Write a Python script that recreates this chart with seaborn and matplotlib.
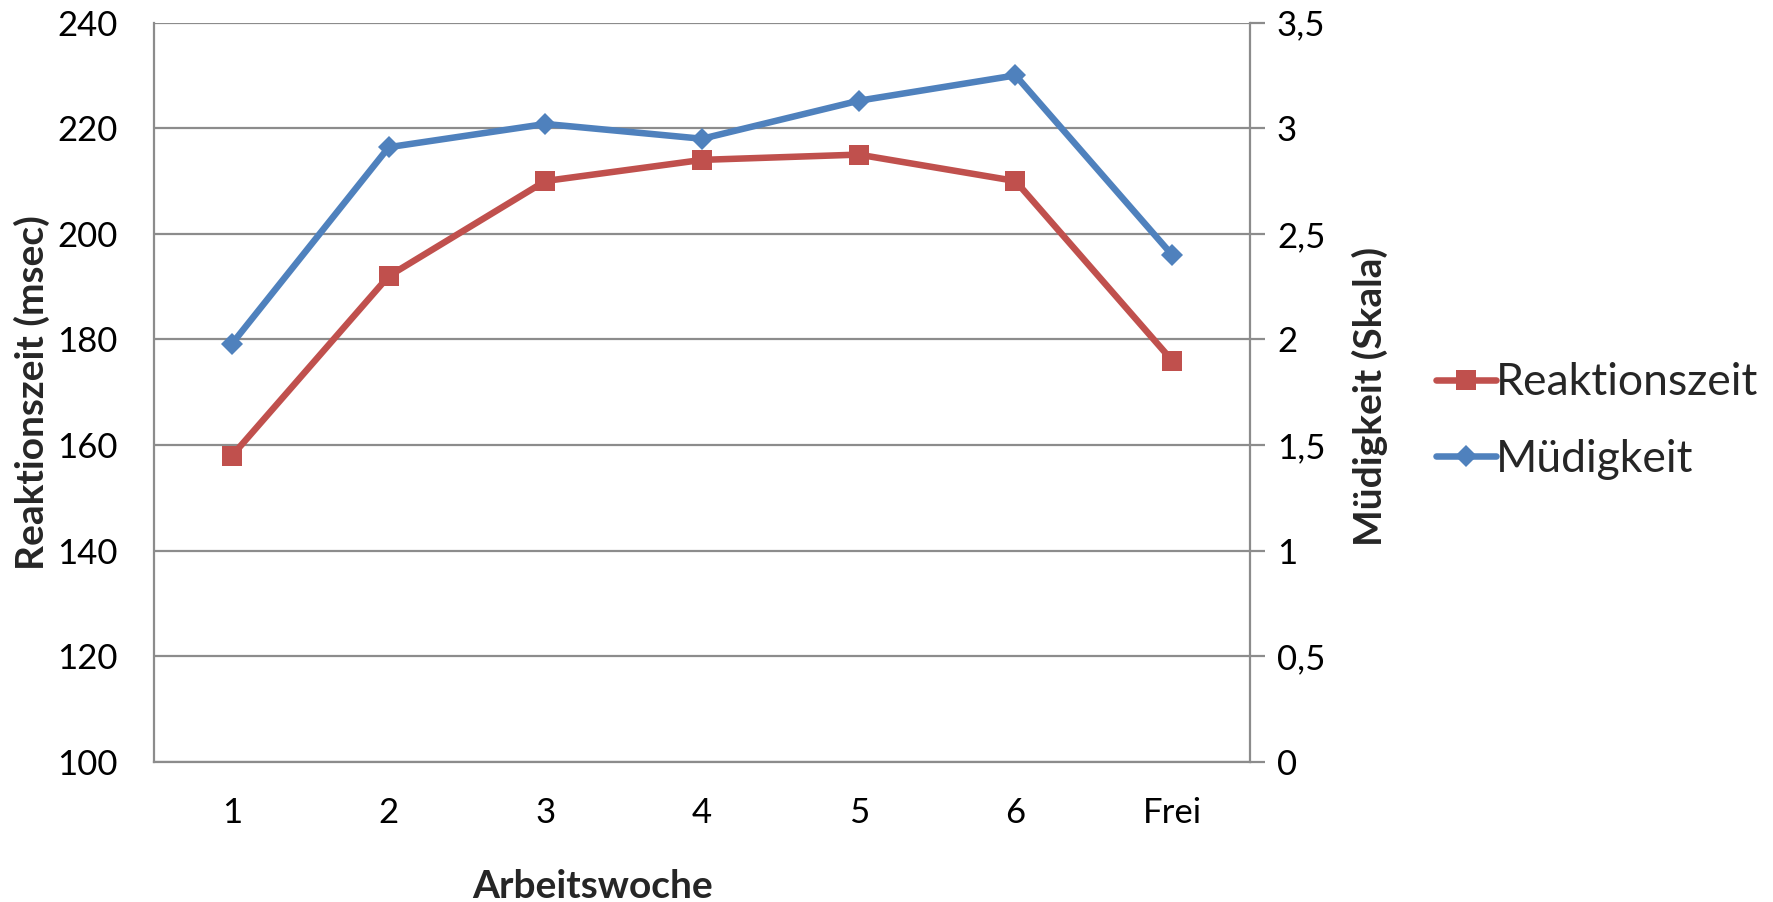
import matplotlib
matplotlib.use("Agg")
import matplotlib.pyplot as plt
import seaborn as sns
import pandas as pd

# Data
wochen = ["1", "2", "3", "4", "5", "6", "Frei"]
reaktionszeit = [158, 192, 210, 214, 215, 210, 176]
muedigkeit = [1.98, 2.91, 3.02, 2.95, 3.13, 3.25, 2.40]

left_ticks = [100, 120, 140, 160, 180, 200, 220, 240]
right_ticks = [0, 0.5, 1, 1.5, 2, 2.5, 3, 3.5]
right_ticklabels = ["0", "0,5", "1", "1,5", "2", "2,5", "3", "3,5"]

RED = "#C0504D"
BLUE = "#4F81BD"
GRID = "#8C8C8C"

sns.set_theme(style="white")
plt.rcParams["font.family"] = ["Lato", "DejaVu Sans"]

df = pd.DataFrame({"Woche": wochen, "Reaktionszeit": reaktionszeit, "Müdigkeit": muedigkeit})

fig = plt.figure(figsize=(17.73, 9.02), dpi=100)
ax = fig.add_axes([0.0867, 0.1552, 0.7053 - 0.0867, 0.975 - 0.1552])
ax2 = ax.twinx()

sns.lineplot(data=df, x="Woche", y="Reaktionszeit", ax=ax, color=RED, lw=4.7,
             marker="s", markersize=14, markeredgewidth=0, label="Reaktionszeit",
             legend=False, sort=False)
sns.lineplot(data=df, x="Woche", y="Müdigkeit", ax=ax2, color=BLUE, lw=4.7,
             marker="D", markersize=11, markeredgewidth=0, label="Müdigkeit",
             legend=False, sort=False)

ax.set_xlim(-0.5, len(wochen) - 0.5)
ax.set_ylim(100, 240)
ax2.set_ylim(0, 3.5)
ax.set_yticks(left_ticks)
ax2.set_yticks(right_ticks)
ax2.set_yticklabels(right_ticklabels)

ax.grid(axis="y", color=GRID, lw=1.6)
ax.grid(axis="x", visible=False)
ax2.grid(False)
ax.set_axisbelow(True)

for a in (ax, ax2):
    for s in a.spines.values():
        s.set_visible(False)
ax.spines["left"].set_visible(True)
ax.spines["left"].set_color(GRID)
ax.spines["left"].set_linewidth(1.6)
ax.spines["bottom"].set_visible(True)
ax.spines["bottom"].set_color(GRID)
ax.spines["bottom"].set_linewidth(1.6)
ax2.spines["right"].set_visible(True)
ax2.spines["right"].set_color(GRID)
ax2.spines["right"].set_linewidth(1.6)

ax.tick_params(axis="y", length=0, pad=26, labelsize=25, labelcolor="black")
ax.tick_params(axis="x", length=0, pad=25, labelsize=25, labelcolor="black")
ax2.tick_params(axis="y", length=11, width=1.6, color=GRID, pad=8, labelsize=25,
                labelcolor="black", right=True, direction="out")

ax.set_xlabel("")
ax.set_ylabel("")
ax2.set_ylabel("")
fig.text(32 / 1773, 1 - 393 / 902, "Reaktionszeit (msec)", rotation=90, ha="center",
         va="center", fontsize=28, fontweight="bold")
fig.text(1370 / 1773, 1 - 396 / 902, "Müdigkeit (Skala)", rotation=90, ha="center",
         va="center", fontsize=28, fontweight="bold")
fig.text(593 / 1773, 1 - 886 / 902, "Arbeitswoche", ha="center", va="center",
         fontsize=28, fontweight="bold")

h1, l1 = ax.get_legend_handles_labels()
h2, l2 = ax2.get_legend_handles_labels()
fig.legend(h1 + h2, l1 + l2, loc="center left", bbox_to_anchor=(1436 / 1773, 1 - 421 / 902),
           frameon=False, fontsize=32, handlelength=1.35, handletextpad=0.0,
           labelspacing=0.8, borderaxespad=0, borderpad=0)

fig.savefig("out.png", dpi=100, facecolor="white")
